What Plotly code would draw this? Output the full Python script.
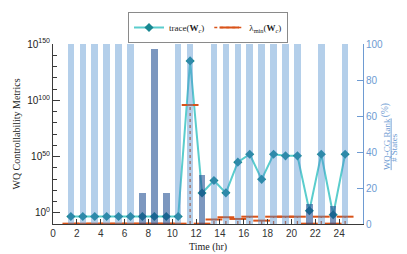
import plotly.graph_objects as go

# ---------------- data ----------------
hours = [1.5, 2.5, 3.5, 4.5, 5.5, 6.5, 7.5, 8.5, 9.5, 10.5, 11.5, 12.5,
         13.5, 14.5, 15.5, 16.5, 17.5, 18.5, 19.5, 20.5, 21.5, 22.5, 23.5, 24.5]
# WQ-CG rank / # states (%)
rank_pct = [100, 100, 100, 100, 100, 100, 17, 97, 17, 100, 100, 27,
            100, 100, 100, 100, 100, 100, 100, 100, 11, 100, 10, 100]
# log10 of trace(W_c)
trace_log = [-3.3, -3.3, -3.3, -3.3, -3.3, -3.3, -3.3, -3.3, -3.3, -3.3, 135, 17.5,
             28.7, 17.7, 45, 52, 29.7, 52, 50.6, 50.6, 1.8, 52, -1.8, 52]
# log10 of lambda_min(W_c)
lam_log = [-9.7, -9.7, -9.7, -9.7, -9.7, -9.7, -9.7, -9.7, -9.7, -9.7, 95.8, -9.7,
           -6.0, -4.0, -5.5, -3.5, -7.0, -3.5, -3.5, -3.5, -9.7, -3.5, -9.7, -3.5]

x_ticks = [0, 2, 4, 6, 8, 10, 12, 14, 16, 18, 20, 22, 24]
y_ticks_log = [0, 50, 100, 150]
y2_ticks = [0, 20, 40, 60, 80, 100]

# ---------------- styles ----------------
SERIF = "Liberation Serif"
SANS = "Liberation Sans"
BLUE = "rgb(110,155,210)"
AX = "#3a3a3a"
ORANGE = "rgb(217,83,25)"
LOG_MIN, LOG_MAX = -10, 150

# page body has an 8px margin: the figure is drawn from screen (8, 8)
OFF = 8
W, H = 407 - OFF, 254 - OFF
# target plot area in screen pixels
SX0, SX1 = 52.5, 363.5
SY0, SY1 = 44.0, 224.5

trace_vals = [10.0 ** v for v in trace_log]
lam_vals = [10.0 ** v for v in lam_log]

# stems for lambda_min
stem_x, stem_y = [], []
for h, v in zip(hours, lam_vals):
    stem_x += [h, h, None]
    stem_y += [10.0 ** LOG_MIN, v, None]

bar_colors = ["rgba(77,140,205,0.42)" if r >= 100 else "rgba(30,75,145,0.58)" for r in rank_pct]

fig = go.Figure()

fig.add_trace(go.Scatter(
    x=hours, y=trace_vals, mode="lines+markers", name="trace(<b>W</b><sub><i>c</i></sub>)",
    line=dict(color="rgb(90,205,205)", width=2),
    marker=dict(symbol="diamond", size=7, color="rgb(25,135,145)"),
    yaxis="y", legendrank=1))

fig.add_trace(go.Scatter(
    x=stem_x, y=stem_y, mode="lines", showlegend=False,
    line=dict(color=ORANGE, width=1.3, dash="dot"), yaxis="y", hoverinfo="skip"))

fig.add_trace(go.Scatter(
    x=hours, y=lam_vals, mode="markers", showlegend=False,
    marker=dict(symbol="line-ew", size=12, line=dict(color=ORANGE, width=2)),
    yaxis="y"))

# legend-only entry for lambda_min
fig.add_trace(go.Scatter(
    x=[None], y=[None], mode="lines+markers", name="λ<sub>min</sub>(<b>W</b><sub><i>c</i></sub>)",
    line=dict(color=ORANGE, width=1.3, dash="dot"),
    marker=dict(symbol="line-ew", size=14, line=dict(color=ORANGE, width=2)),
    yaxis="y", legendrank=2))

fig.add_trace(go.Bar(
    x=hours, y=rank_pct, width=0.55, marker=dict(color=bar_colors, line=dict(width=0)),
    yaxis="y2", showlegend=False))

fig.update_layout(
    width=W, height=H,
    margin=dict(l=SX0 - OFF, r=W - (SX1 - OFF), t=SY0 - OFF, b=H - (SY1 - OFF), autoexpand=False),
    paper_bgcolor="white", plot_bgcolor="white",
    bargap=0,
    showlegend=True,
    legend=dict(orientation="h", xref="paper", x=0.5, xanchor="center",
                yref="container", y=1 - (12 - OFF) / H, yanchor="top",
                bordercolor="#8a8a8a", borderwidth=1, bgcolor="white",
                font=dict(family=SERIF, size=9, color="#222"),
                itemwidth=30, tracegroupgap=0, traceorder="normal"),
    xaxis=dict(range=[0, 26], tickmode="array", tickvals=x_ticks, automargin=False,
               ticks="inside", ticklen=5, tickcolor=AX, tickwidth=1,
               showline=True, linecolor=AX, linewidth=1, showgrid=False, zeroline=False,
               tickfont=dict(family=SANS, size=10, color="#333"),
               title=dict(text="Time (hr)", font=dict(family=SERIF, size=10, color="#222"), standoff=4)),
    yaxis=dict(type="log", range=[LOG_MIN, LOG_MAX], tickmode="array", automargin=False,
               tickvals=[10.0 ** v for v in y_ticks_log],
               ticktext=["10<sup>%d</sup>" % v for v in y_ticks_log],
               ticks="inside", ticklen=7, tickcolor=AX, tickwidth=1,
               minor=dict(tickmode="array",
                          tickvals=[10.0 ** v for v in range(LOG_MIN, LOG_MAX, 10) if v % 50 != 0],
                          ticks="inside", ticklen=4, tickcolor=AX),
               showline=True, linecolor=AX, linewidth=1, showgrid=False, zeroline=False,
               tickfont=dict(family=SANS, size=10, color="#222"),
               title=dict(text="WQ Controllability Metrics", font=dict(family=SERIF, size=10, color="#222"), standoff=4)),
    yaxis2=dict(overlaying="y", side="right", range=[0, 100], tickmode="array", tickvals=y2_ticks,
                automargin=False,
                ticks="inside", ticklen=6, tickcolor=BLUE, tickwidth=1,
                showline=True, linecolor=BLUE, linewidth=1, showgrid=False, zeroline=False,
                tickfont=dict(family=SANS, size=10, color=BLUE)),
)


def px_x(p):
    return (p - SX0) / (SX1 - SX0)


def px_y(p):
    return (SY1 - p) / (SY1 - SY0)


fig.add_annotation(xref="paper", yref="paper", x=px_x(394), y=px_y(144), textangle=-90,
                   text="<u>WQ-CG Rank</u>", showarrow=False,
                   font=dict(family=SERIF, size=9, color=BLUE))
fig.add_annotation(xref="paper", yref="paper", x=px_x(401), y=px_y(148), textangle=-90,
                   text="# States", showarrow=False,
                   font=dict(family=SERIF, size=9, color=BLUE))
fig.add_annotation(xref="paper", yref="paper", x=px_x(393.5), y=px_y(101), textangle=-90,
                   text="(%)", showarrow=False,
                   font=dict(family=SERIF, size=9.5, color=BLUE))

fig.write_html("out.html")
